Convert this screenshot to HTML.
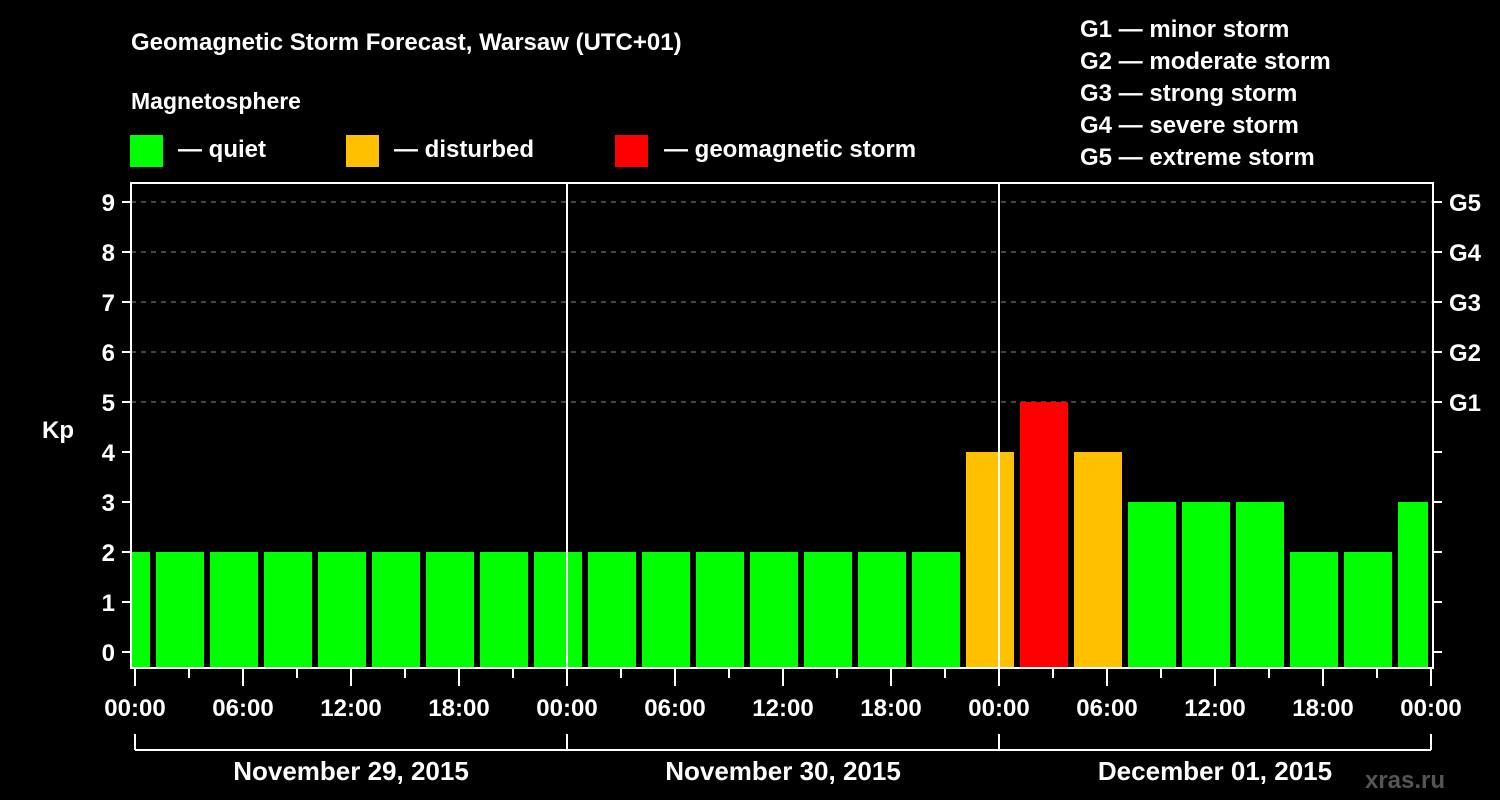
<!DOCTYPE html>
<html><head><meta charset="utf-8"><style>
html,body{margin:0;padding:0;background:#000;}
svg{display:block;font-family:"Liberation Sans",sans-serif;font-weight:bold;}
</style></head><body>
<svg id="chart" width="1500" height="800" viewBox="0 0 1500 800">
<rect x="0" y="0" width="1500" height="800" fill="#000"/>
<text x="131" y="50" font-size="24" fill="#fff">Geomagnetic Storm Forecast, Warsaw (UTC+01)</text>
<text x="131" y="109" font-size="23" fill="#fff">Magnetosphere</text>
<g><rect x="130" y="135" width="33" height="32" fill="#00ff00"/><text x="178" y="157" font-size="24" fill="#fff">— quiet</text></g>
<g><rect x="346" y="135" width="33" height="32" fill="#ffc000"/><text x="394" y="157" font-size="24" fill="#fff">— disturbed</text></g>
<g><rect x="615" y="135" width="33" height="32" fill="#ff0000"/><text x="664" y="157" font-size="24" fill="#fff">— geomagnetic storm</text></g>
<g font-size="24" fill="#fff">
<text x="1080" y="37">G1 — minor storm</text>
<text x="1080" y="69">G2 — moderate storm</text>
<text x="1080" y="101">G3 — strong storm</text>
<text x="1080" y="133">G4 — severe storm</text>
<text x="1080" y="165">G5 — extreme storm</text>
</g>
<text x="42" y="438" font-size="24" fill="#fff">Kp</text>
<defs><clipPath id="plotclip"><rect x="132" y="184" width="1296" height="484"/></clipPath></defs>
<g id="grid"></g>
<g id="bars" clip-path="url(#plotclip)"></g>
<g id="axes"></g>
<text x="1445" y="788" font-size="24" fill="#555" text-anchor="end">xras.ru</text>
</svg>
<script>
const kpValues = [2,2,2,2,2,2,2,2,2,2,2,2,2,2,2,2,4,5,4,3,3,3,2,2,3];
const yTicks = [0,1,2,3,4,5,6,7,8,9];
const gLabels = ["G1","G2","G3","G4","G5"];
const hourLabels = ["00:00","06:00","12:00","18:00","00:00","06:00","12:00","18:00","00:00","06:00","12:00","18:00","00:00"];
const dayLabels = ["November 29, 2015","November 30, 2015","December 01, 2015"];
const firstBarHour = -0.5, barHours = 3;

const NS = "http://www.w3.org/2000/svg";
const X0 = 135, PXH = 18, Y0 = 652, PXK = 50;
const PL = 131, PR = 1433, PT = 183, PB = 668;
const xs = h => X0 + h * PXH;
const ys = v => Y0 - v * PXK;
function mk(parent, tag, attrs) {
  const e = document.createElementNS(NS, tag);
  for (const k in attrs) e.setAttribute(k, attrs[k]);
  document.getElementById(parent).appendChild(e);
  return e;
}
function color(v){ return v >= 5 ? "#ff0000" : (v >= 4 ? "#ffc000" : "#00ff00"); }

// grid lines 5..9
for (const t of yTicks) {
  if (t >= 5) {
    const l = mk("grid","line",{x1:PL,x2:PR,y1:ys(t),y2:ys(t),stroke:"#888","stroke-width":1,"stroke-dasharray":"5,5"});
    
    
  }
}
// bars
kpValues.forEach((v, i) => {
  const c = firstBarHour + i * barHours;
  const r = mk("bars","rect",{x:xs(c - 1.5) + 3, y:ys(v), width:PXH*barHours - 6, height:PB - ys(v), fill:color(v)});
  
  
});
// day separators
for (let d = 1; d < dayLabels.length; d++) {
  const l = mk("axes","line",{x1:xs(24*d),x2:xs(24*d),y1:PT,y2:PB,stroke:"#fff","stroke-width":2});
  
  
}
// frame
const fr = mk("axes","rect",{x:PL,y:PT,width:PR-PL,height:PB-PT,fill:"none",stroke:"#fff","stroke-width":2});


// y ticks
for (const t of yTicks) {
  const a = mk("axes","line",{x1:122,x2:PL,y1:ys(t),y2:ys(t),stroke:"#fff","stroke-width":2});
  
  
  const b = mk("axes","line",{x1:PR,x2:PR+9,y1:ys(t),y2:ys(t),stroke:"#fff","stroke-width":2});
  
  
  const tx = mk("axes","text",{x:115,y:ys(t)+9,"font-size":24,fill:"#fff","text-anchor":"end"});
  tx.textContent = t;
  
  
  if (t >= 5) {
    const g = mk("axes","text",{x:1449,y:ys(t)+9,"font-size":24,fill:"#fff"});
    g.textContent = gLabels[t-5];
    
    
  }
}
// x ticks
for (let h = 0; h <= 72; h += 3) {
  const major = h % 6 === 0;
  const l = mk("axes","line",{x1:xs(h),x2:xs(h),y1:PB,y2:major?686:678,stroke:"#fff","stroke-width":2});
  
  
}
hourLabels.forEach((lab, i) => {
  const t = mk("axes","text",{x:xs(i*6),y:716,"font-size":24,fill:"#fff","text-anchor":"middle"});
  t.textContent = lab;
  
  
});
// day bracket
const br = mk("axes","line",{x1:xs(0),x2:xs(72),y1:750,y2:750,stroke:"#fff","stroke-width":2});


for (let d = 0; d <= dayLabels.length; d++) {
  const l = mk("axes","line",{x1:xs(24*d),x2:xs(24*d),y1:734,y2:750,stroke:"#fff","stroke-width":2});
  
  
}
dayLabels.forEach((lab, d) => {
  const t = mk("axes","text",{x:xs(24*d+12),y:780,"font-size":26,fill:"#fff","text-anchor":"middle"});
  t.textContent = lab;
  
  
});
</script>
</body></html>
